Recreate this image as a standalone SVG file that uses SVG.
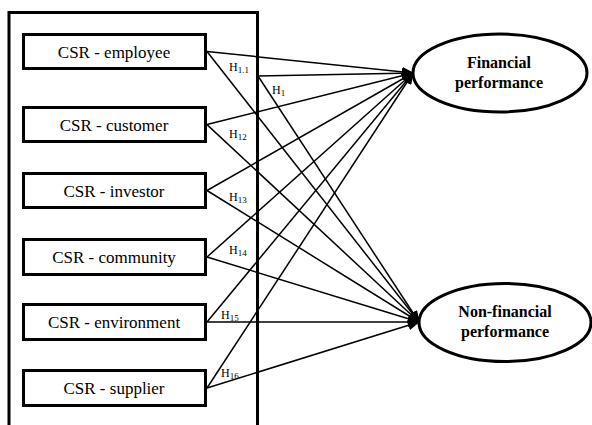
<svg xmlns="http://www.w3.org/2000/svg" width="592" height="425" viewBox="0 0 592 425">
<style>
.box{fill:#fff;stroke:#000;stroke-width:3}
.ell{fill:#fff;stroke:#000;stroke-width:3}
.frame{fill:none;stroke:#000;stroke-width:3}
text{font-family:'Liberation Serif','DejaVu Serif',serif;fill:#000}
.lbl{font-size:17px;text-anchor:middle}
.elbl{font-size:16px;font-weight:bold;text-anchor:middle}
.h{font-size:12px}
.sub{font-size:9px}
.c line{stroke:#000;stroke-width:1.5;marker-end:url(#arr)}
</style>
<defs>
<marker id="arr" markerUnits="userSpaceOnUse" markerWidth="12" markerHeight="10" viewBox="0 0 12 10" refX="11" refY="5" orient="auto">
<path d="M0,0 L12,5 L0,10 Z" fill="#000"/>
</marker>
</defs>
<rect width="592" height="425" fill="#fff"/>
<path class="frame" d="M9,425 V12.5 H257.5 V425"/>
<g class="c" id="connectors">
<line x1="207" y1="51.5" x2="413" y2="73"/>
<line x1="207" y1="51.5" x2="419" y2="322"/>
<line x1="258" y1="76" x2="413" y2="73"/>
<line x1="258" y1="76" x2="419" y2="322"/>
<line x1="207" y1="124.6" x2="413" y2="73"/>
<line x1="207" y1="124.6" x2="419" y2="322"/>
<line x1="207" y1="190.5" x2="413" y2="73"/>
<line x1="207" y1="190.5" x2="419" y2="322"/>
<line x1="207" y1="257" x2="413" y2="73"/>
<line x1="207" y1="257" x2="419" y2="322"/>
<line x1="207" y1="322" x2="413" y2="73"/>
<line x1="207" y1="322" x2="419" y2="322"/>
<line x1="207" y1="388" x2="413" y2="73"/>
<line x1="207" y1="388" x2="419" y2="322"/>
</g>
<g id="employee"><rect class="box" x="23.5" y="34.5" width="182" height="34"/><text class="lbl" x="114" y="57.5" font-family="Liberation Serif, serif">CSR - employee</text></g>
<g id="customer"><rect class="box" x="23.5" y="107.5" width="182" height="34"/><text class="lbl" x="114" y="130.5">CSR - customer</text></g>
<g id="investor"><rect class="box" x="23.5" y="173.5" width="182" height="34"/><text class="lbl" x="114" y="196.5">CSR - investor</text></g>
<g id="community"><rect class="box" x="23.5" y="239.5" width="182" height="35"/><text class="lbl" x="114" y="263">CSR - community</text></g>
<g id="environment"><rect class="box" x="23.5" y="304.5" width="182" height="35"/><text class="lbl" x="114" y="328">CSR - environment</text></g>
<g id="supplier"><rect class="box" x="23.5" y="370.5" width="182" height="35"/><text class="lbl" x="114" y="394">CSR - supplier</text></g>
<g id="financial"><ellipse class="ell" cx="500" cy="73" rx="87" ry="39"/><text class="elbl" x="499" y="68">Financial</text><text class="elbl" x="499" y="88">performance</text></g>
<g id="nonfinancial"><ellipse class="ell" cx="505" cy="322.5" rx="86" ry="39"/><text class="elbl" x="505" y="317">Non-financial</text><text class="elbl" x="505" y="337">performance</text></g>
<g id="labels">
<text class="h" x="229" y="71">H<tspan class="sub" dy="2">1.1</tspan></text>
<text class="h" x="272" y="94">H<tspan class="sub" dy="2">1</tspan></text>
<text class="h" x="229" y="138">H<tspan class="sub" dy="2">12</tspan></text>
<text class="h" x="229" y="201">H<tspan class="sub" dy="2">13</tspan></text>
<text class="h" x="229" y="254">H<tspan class="sub" dy="2">14</tspan></text>
<text class="h" x="221" y="319">H<tspan class="sub" dy="2">15</tspan></text>
<text class="h" x="221" y="377">H<tspan class="sub" dy="2">16</tspan></text>
</g>
</svg>
